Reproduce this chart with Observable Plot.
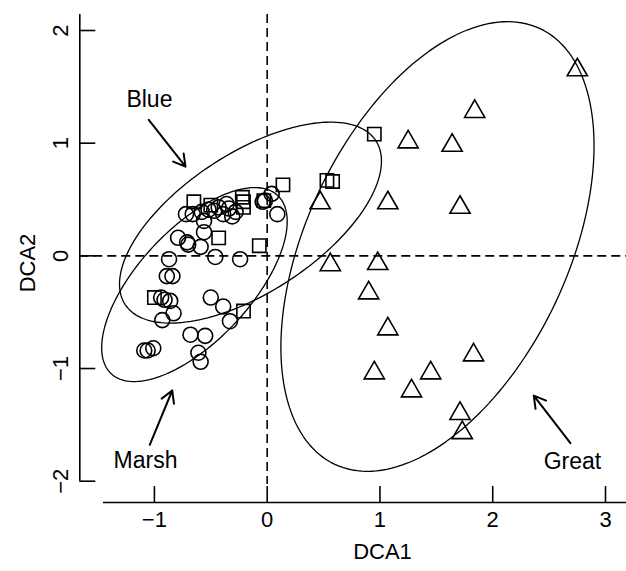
<!DOCTYPE html>
<html><head><meta charset="utf-8">
<script src="https://cdn.jsdelivr.net/npm/d3@7"></script>
<script src="https://cdn.jsdelivr.net/npm/@observablehq/plot@0.6"></script>
<style>
html,body{margin:0;padding:0;background:#fff;}
</style>
</head><body><div id="chart"></div>
<script>
// Site scores (DCA1, DCA2) by pond
const marshX = [-0.72, -0.66, -0.58, -0.52, -0.47, -0.43, -0.39, -0.34, -0.31, -0.28, -0.36, -0.04, -0.02, 0.04, 0.09, -0.56, -0.56, -0.79, -0.71, -0.70, -0.59, -0.46, -0.24, -0.87, -0.89, -0.84, -0.94, -0.91, -0.86, -0.83, -0.93, -0.50, -0.39, -0.33, -0.68, -0.55, -0.61, -0.59, -1.09, -1.06, -1.01];
const marshY = [0.37, 0.37, 0.39, 0.41, 0.40, 0.43, 0.37, 0.42, 0.35, 0.39, 0.46, 0.48, 0.49, 0.55, 0.37, 0.31, 0.21, 0.16, 0.12, 0.10, 0.08, -0.01, -0.03, -0.03, -0.18, -0.18, -0.37, -0.39, -0.40, -0.51, -0.57, -0.37, -0.45, -0.58, -0.70, -0.71, -0.86, -0.94, -0.84, -0.84, -0.82];
const blueX = [-0.65, -0.50, -0.22, -0.21, -0.21, -0.03, 0.14, -0.43, -0.07, -1.00, -0.21, 0.53, 0.58, 0.95];
const blueY = [0.48, 0.45, 0.52, 0.48, 0.43, 0.49, 0.63, 0.16, 0.09, -0.37, -0.49, 0.67, 0.66, 1.08];
const greatX = [2.75, 1.84, 1.25, 1.64, 0.47, 1.07, 1.71, 0.56, 0.98, 0.90, 1.07, 0.95, 1.45, 1.28, 1.83, 1.71, 1.73];
const greatY = [1.65, 1.28, 1.01, 0.98, 0.47, 0.47, 0.43, -0.08, -0.07, -0.33, -0.65, -1.04, -1.04, -1.20, -0.88, -1.40, -1.57];

// Ellipse parameters (centre, semi-axes, rotation in degrees)
const ellipseNames = ["Blue", "Marsh", "Great"];
const ellipseCX = [-0.148, -0.645, 1.51];
const ellipseCY = [0.295, -0.255, 0.083];
const ellipseA = [1.328, 1.082, 2.137];
const ellipseB = [0.617, 0.497, 1.159];
const ellipseAngle = [33.2, 47, 64.8];

// Annotations
const annoText = ["Blue", "Marsh", "Great"];
const annoX = [-1.044, -1.079, 2.707];
const annoY = [1.325, -1.881, -1.890];
const arrowX1 = [-1.050, -1.041, 2.689];
const arrowY1 = [1.207, -1.677, -1.663];
const arrowX2 = [-0.724, -0.842, 2.364];
const arrowY2 = [0.792, -1.195, -1.240];

// Axis ticks
const xTicks = [-1, 0, 1, 2, 3];
const yTicks = [-2, -1, 0, 1, 2];

const points = [
  ...marshX.map((x, i) => ({x, y: marshY[i], site: "Marsh"})),
  ...blueX.map((x, i) => ({x, y: blueY[i], site: "Blue"})),
  ...greatX.map((x, i) => ({x, y: greatY[i], site: "Great"}))
];
const ellipsePts = ellipseNames.flatMap((name, k) => d3.range(0, 360, 2).map(deg => {
  const t = deg * Math.PI / 180, th = ellipseAngle[k] * Math.PI / 180;
  const u = ellipseA[k] * Math.cos(t), v = ellipseB[k] * Math.sin(t);
  return {name, x: ellipseCX[k] + u * Math.cos(th) - v * Math.sin(th), y: ellipseCY[k] + u * Math.sin(th) + v * Math.cos(th)};
}));
const annos = annoText.map((t, i) => ({t, x: annoX[i], y: annoY[i], x1: arrowX1[i], y1: arrowY1[i], x2: arrowX2[i], y2: arrowY2[i]}));

const W = 626, H = 571, mL = 79.3, mR = 0, mT = 14, mB = 69;
const xDomain = [-1.6615, 3.1862];
const yDomain = [-2.189, 2.142];
const frameW = W - mL - mR, frameH = H - mT - mB;
const fmt = d3.format("d");

const chart = Plot.plot({
  width: W, height: H,
  marginLeft: mL, marginRight: mR, marginTop: mT, marginBottom: mB,
  style: {fontFamily: "'Liberation Sans', Arial, Helvetica, sans-serif", fontSize: "22px", background: "white", color: "black"},
  x: {domain: xDomain},
  y: {domain: yDomain},
  symbol: {domain: ["Marsh", "Blue", "Great"], range: ["circle", "square", "triangle"]},
  marks: [
    // dashed zero lines
    Plot.ruleX([0], {stroke: "black", strokeWidth: 1.6, strokeDasharray: "9,5", insetBottom: 18}),
    Plot.ruleY([0], {stroke: "black", strokeWidth: 1.6, strokeDasharray: "9,5"}),
    // axis lines
    Plot.ruleX([xDomain[0]], {stroke: "black", strokeWidth: 1.6, insetBottom: 21.3}),
    Plot.ruleY([yDomain[0]], {stroke: "black", strokeWidth: 1.6, insetLeft: 23.7}),
    // inward ticks
    Plot.ruleX(xTicks, {stroke: "black", strokeWidth: 1.6, insetTop: frameH - 16}),
    Plot.ruleY(yTicks, {stroke: "black", strokeWidth: 1.6, insetRight: frameW - 16}),
    Plot.axisX({ticks: xTicks, tickFormat: fmt, tickSize: 0, tickPadding: 9, label: null, fontSize: 22}),
    Plot.axisY({ticks: yTicks, tickFormat: fmt, tickSize: 0, tickPadding: 12, tickRotate: -90, label: null, fontSize: 22}),
    Plot.text(["DCA1"], {frameAnchor: "bottom", dx: 382 - (mL + frameW / 2), dy: 56, lineAnchor: "bottom", fontSize: 22}),
    Plot.text(["DCA2"], {frameAnchor: "left", rotate: -90, dx: 34 - mL, dy: 4.5, lineAnchor: "bottom", textAnchor: "middle", fontSize: 22}),
    // ellipses
    Plot.line(ellipsePts, {x: "x", y: "y", z: "name", stroke: "black", strokeWidth: 1.3, curve: "linear-closed"}),
    // points
    Plot.dot(points, {x: "x", y: "y", symbol: "site", r: 7.5, stroke: "black", strokeWidth: 1.6, fill: "none"}),
    // annotations
    Plot.arrow(annos, {x1: "x1", y1: "y1", x2: "x2", y2: "y2", stroke: "black", strokeWidth: 2, headLength: 10}),
    Plot.text(annos, {x: "x", y: "y", text: "t", lineAnchor: "bottom", fontSize: 23})
  ]
});
document.getElementById("chart").appendChild(chart);
</script>
</body></html>
